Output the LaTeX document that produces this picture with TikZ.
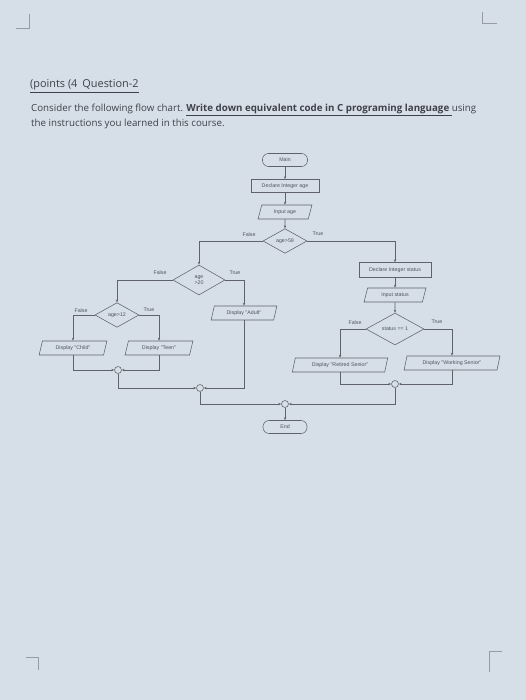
\documentclass[tikz,border=0pt]{standalone}
\usepackage{fontspec}
\setmainfont{Open Sans}
\newfontfamily\flowfont{Liberation Sans}
\usetikzlibrary{shapes.geometric,arrows.meta}
\definecolor{bgc}{RGB}{214,223,231}
\definecolor{txtc}{RGB}{62,64,74}
\definecolor{flowc}{RGB}{95,98,106}
\definecolor{flowt}{RGB}{80,82,92}
\definecolor{markc}{RGB}{150,156,166}
\tikzset{
  base/.style={draw=flowc, line width=0.55pt, text=flowt, font=\flowfont\fontsize{5.3}{6.2}\selectfont, inner sep=0.5pt},
  term/.style={base, rounded corners=6pt, minimum width=#1, minimum height=13pt},
  procbox/.style={base, rectangle, minimum width=#1, minimum height=13pt},
  iobox/.style={base, trapezium, trapezium left angle=72, trapezium right angle=108, trapezium stretches=true, minimum width=#1, minimum height=14pt},
  decis/.style={base, diamond, align=center},
  junc/.style={draw=flowc, line width=0.55pt, circle, fill=bgc, minimum size=7pt, inner sep=0pt},
  arr/.style={draw=flowc, line width=0.55pt, -{Stealth[length=3pt,width=2.4pt]}},
  tf/.style={text=flowt, font=\flowfont\fontsize{5.3}{6.2}\selectfont, inner sep=0pt},
  cornermark/.style={draw=markc, line width=0.8pt}
}
\begin{document}
\begin{tikzpicture}[x=1pt,y=-1pt]
\fill[bgc] (0,0) rectangle (526,700);
\useasboundingbox (0,0) rectangle (526,700);
% corner marks
\draw[cornermark] (16,28) -- (29,28) -- (29,14);
\draw[cornermark] (482,12) -- (482,23) -- (497,23);
\draw[cornermark] (26,657) -- (38,657) -- (38,670);
\draw[cornermark] (502,651) -- (489,651) -- (489,672);
% header text
\node[anchor=west, inner sep=0pt, text=txtc, font=\fontsize{10.9}{12}\selectfont] (hdr) at (30,86) {\underline{(points (4\hspace{5pt}Question-2}};
\node[anchor=west, inner sep=0pt, text=txtc, font=\fontsize{9.75}{11}\selectfont] (q1) at (31,110) {Consider the following flow chart. \underline{\textbf{Write down equivalent code in C programing language }}using};
\node[anchor=west, inner sep=0pt, text=txtc, font=\fontsize{9.75}{11}\selectfont] (q2) at (31,124) {the instructions you learned in this course.};
% flowchart nodes
\node[term=45pt] (main) at (285,160) {Main};
\node[procbox=68pt] (decl) at (285,186) {Declare Integer age};
\node[iobox=54pt] (inage) at (285,212) {Input age};
\node[decis, minimum width=44pt, minimum height=24pt] (d59) at (285,241) {age>59};
\node[decis, minimum width=52pt, minimum height=30pt] (d20) at (199,280) {age\\>20};
\node[iobox=66pt] (adult) at (244,313) {Display "Adult"};
\node[decis, minimum width=44pt, minimum height=20pt] (d12) at (117,315) {age>12};
\node[iobox=68pt] (child) at (73,348) {Display "Child"};
\node[iobox=68pt] (teen) at (159,348) {Display "Teen"};
\node[junc] (j1) at (118,370) {};
\node[junc] (j2) at (200,388) {};
\node[procbox=72pt, minimum height=15pt] (decls) at (395,270) {Declare Integer status};
\node[iobox=62pt] (ins) at (395,295) {Input status};
\node[decis, minimum width=58pt, minimum height=28pt] (ds) at (395,329) {status == 1};
\node[iobox=96pt] (retired) at (340,365) {Display "Retired Senior"};
\node[iobox=96pt] (working) at (452,363) {Display "Working Senior"};
\node[junc] (j3) at (395,384) {};
\node[junc] (j4) at (285,404) {};
\node[term=44pt] (endn) at (285,427) {End};
% connectors
\draw[arr] (main) -- (decl);
\draw[arr] (decl) -- (inage);
\draw[arr] (inage) -- (d59);
\draw[arr] (d59.west) -| (d20.north);
\draw[arr] (d59.east) -| (decls.north);
\draw[arr] (d20.west) -| (d12.north);
\draw[arr] (d20.east) -| (adult.north);
\draw[arr] (d12.west) -| (child.north);
\draw[arr] (d12.east) -| (teen.north);
\draw[arr] (child.south) |- (j1.west);
\draw[arr] (teen.south) |- (j1.east);
\draw[arr] (j1.south) |- (j2.west);
\draw[arr] (adult.south) |- (j2.east);
\draw[arr] (j2.south) |- (j4.west);
\draw[arr] (decls) -- (ins);
\draw[arr] (ins) -- (ds);
\draw[arr] (ds.west) -| (retired.north);
\draw[arr] (ds.east) -| (working.north);
\draw[arr] (retired.south) |- (j3.west);
\draw[arr] (working.south) |- (j3.east);
\draw[arr] (j3.south) |- (j4.east);
\draw[arr] (j4) -- (endn);
% branch labels
\node[tf] (f59) at (249,235) {False};
\node[tf] (t59) at (318,234) {True};
\node[tf] (f20) at (160,273) {False};
\node[tf] (t20) at (235,273) {True};
\node[tf] (f12) at (81,311) {False};
\node[tf] (t12) at (149,310) {True};
\node[tf] (fs) at (355,323) {False};
\node[tf] (ts) at (437,322) {True};
\end{tikzpicture}
\end{document}
